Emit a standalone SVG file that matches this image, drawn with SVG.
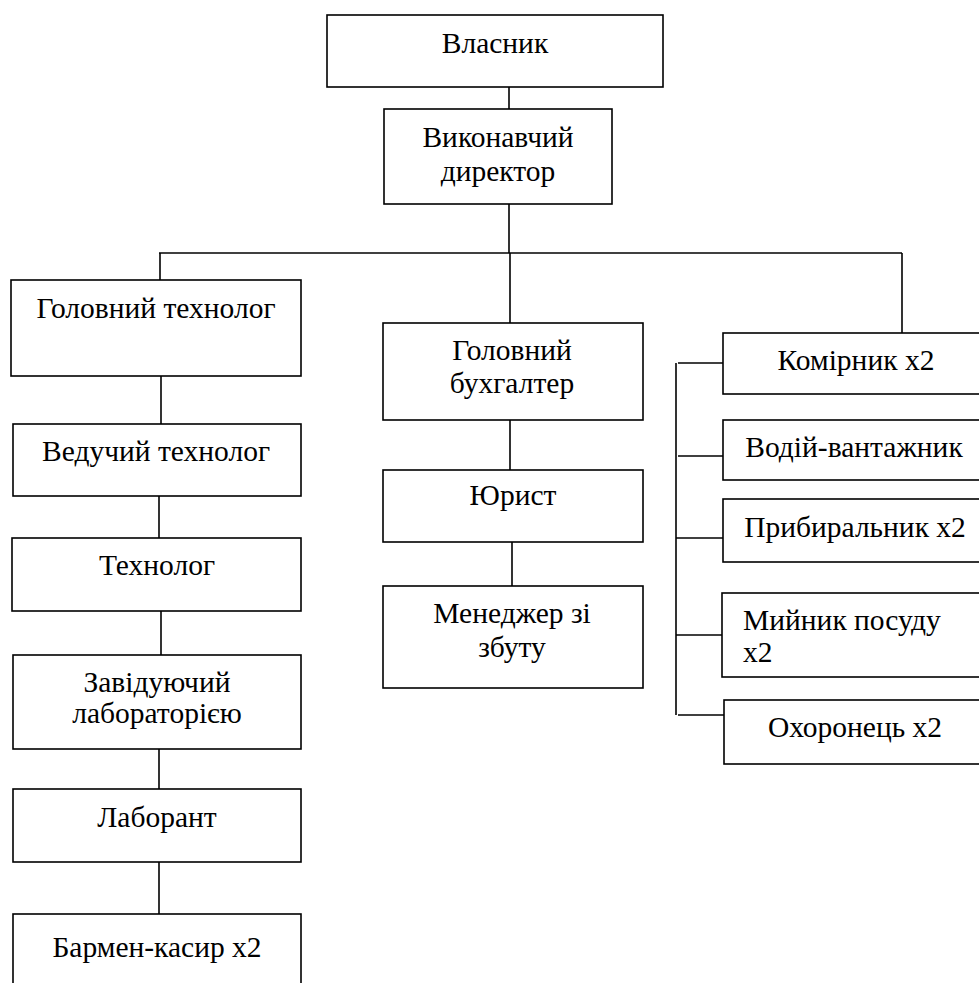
<svg xmlns="http://www.w3.org/2000/svg" width="979" height="983" viewBox="0 0 979 983">
<style>
.box{fill:#fff;stroke:#000;stroke-width:1.6}
.c{stroke:#000;stroke-width:1.6;fill:none}
.t{font-family:'Liberation Serif','Times New Roman',serif;font-size:29.5px;fill:#000;text-anchor:middle}
.tl{font-family:'Liberation Serif','Times New Roman',serif;font-size:29.5px;fill:#000;text-anchor:start}
</style>
<rect width="979" height="983" fill="#fff"/>
<g id="connectors">
<line class="c" x1="509" y1="87" x2="509" y2="109"/>
<line class="c" x1="509" y1="204" x2="509" y2="253"/>
<line class="c" x1="159" y1="253" x2="902" y2="253"/>
<line class="c" x1="160" y1="253" x2="160" y2="280"/>
<line class="c" x1="510" y1="253" x2="510" y2="323"/>
<line class="c" x1="902" y1="253" x2="902" y2="333"/>
<line class="c" x1="161" y1="376" x2="161" y2="424"/>
<line class="c" x1="159" y1="496" x2="159" y2="538"/>
<line class="c" x1="161" y1="611" x2="161" y2="655"/>
<line class="c" x1="159" y1="749" x2="159" y2="789"/>
<line class="c" x1="159" y1="862" x2="159" y2="914"/>
<line class="c" x1="510" y1="420" x2="510" y2="470"/>
<line class="c" x1="512" y1="542" x2="512" y2="586"/>
<line class="c" x1="676" y1="363" x2="676" y2="715"/>
<line class="c" x1="678" y1="363" x2="723" y2="363"/>
<line class="c" x1="678" y1="456" x2="723" y2="456"/>
<line class="c" x1="676" y1="538" x2="723" y2="538"/>
<line class="c" x1="676" y1="635" x2="722" y2="635"/>
<line class="c" x1="678" y1="715" x2="724" y2="715"/>
</g>
<g id="n-vlasnyk"><rect class="box" x="327" y="15" width="336" height="72"/><text class="t" x="495" y="53">Власник</text></g>
<g id="n-vykonavchyi"><rect class="box" x="384" y="109" width="228" height="95"/><text class="t" x="498" y="147">Виконавчий</text><text class="t" x="498" y="181">директор</text></g>
<g id="n-holovnyi-tekhnolog"><rect class="box" x="11" y="280" width="290" height="96"/><text class="t" x="156" y="318">Головний технолог</text></g>
<g id="n-veduchyi"><rect class="box" x="13" y="424" width="288" height="72"/><text class="t" x="156" y="461">Ведучий технолог</text></g>
<g id="n-tekhnolog"><rect class="box" x="12" y="538" width="289" height="73"/><text class="t" x="157" y="575">Технолог</text></g>
<g id="n-zaviduiuchyi"><rect class="box" x="13" y="655" width="288" height="94"/><text class="t" x="157" y="692">Завідуючий</text><text class="t" x="157" y="723">лабораторією</text></g>
<g id="n-laborant"><rect class="box" x="13" y="789" width="288" height="73"/><text class="t" x="157" y="827">Лаборант</text></g>
<g id="n-barmen"><rect class="box" x="13" y="914" width="288" height="80"/><text class="t" x="157" y="957">Бармен-касир х2</text></g>
<g id="n-bukhhalter"><rect class="box" x="383" y="323" width="260" height="97"/><text class="t" x="512" y="360">Головний</text><text class="t" x="512" y="393">бухгалтер</text></g>
<g id="n-iuryst"><rect class="box" x="383" y="470" width="260" height="72"/><text class="t" x="513" y="505">Юрист</text></g>
<g id="n-menedzher"><rect class="box" x="383" y="586" width="260" height="102"/><text class="t" x="512" y="623">Менеджер зі</text><text class="t" x="512" y="657">збуту</text></g>
<g id="n-komirnyk"><rect class="box" x="723" y="333" width="270" height="61"/><text class="t" x="856" y="370">Комірник х2</text></g>
<g id="n-vodii"><rect class="box" x="723" y="420" width="270" height="60"/><text class="t" x="854" y="457">Водій-вантажник</text></g>
<g id="n-prybyralnyk"><rect class="box" x="723" y="499" width="270" height="63"/><text class="t" x="855" y="537">Прибиральник х2</text></g>
<g id="n-myinyk"><rect class="box" x="722" y="593" width="270" height="84"/><text class="tl" x="743" y="630">Мийник посуду</text><text class="tl" x="743" y="662">х2</text></g>
<g id="n-okhoronets"><rect class="box" x="724" y="700" width="270" height="64"/><text class="t" x="855" y="737">Охоронець х2</text></g>
</svg>
